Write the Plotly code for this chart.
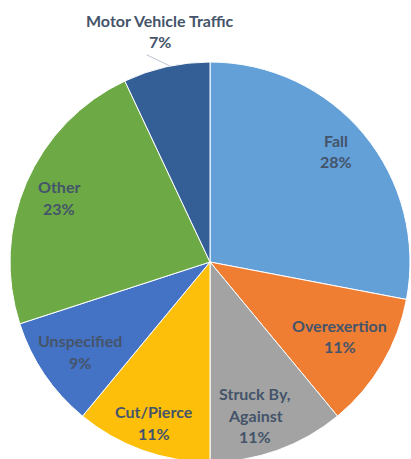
import math
import plotly.graph_objects as go

# slice data, clockwise from 12 o'clock
labels = ["Fall", "Overexertion", "Struck By,<br>Against", "Cut/Pierce",
          "Unspecified", "Other", "Motor Vehicle Traffic"]
values = [28, 11, 11, 11, 9, 23, 7]
colors = ["#63A0D8", "#EF7E33", "#A3A3A3", "#FDBF0A",
          "#4472C4", "#6DAA45", "#335F96"]

# label placement: fraction of radius and small angle nudge (degrees)
label_r = [0.84, 0.746, 0.80, 0.85, 0.79, 0.82, None]
label_nudge = [-1.8, -0.9, 3.4, -0.5, -0.4, -0.3, 0]

# figure is a bit taller than the window so the pie can run off the bottom;
# body margin is removed and overflow hidden (see post_script below)
W, H = 411, 464
cx, cy, R = 210, 262, 200
txt_color = "#44546A"
font = dict(family="Lato", size=16, color=txt_color, weight="bold")
line_h = 21.5

fig = go.Figure(go.Pie(
    labels=labels,
    values=values,
    sort=False,
    direction="clockwise",
    rotation=0,
    marker=dict(colors=colors, line=dict(color="white", width=1)),
    textinfo="none",
    hoverinfo="label+percent",
    domain=dict(x=[(cx - R) / W, (cx + R) / W],
                y=[1 - (cy + R) / H, 1 - (cy - R) / H]),
    showlegend=False,
))

annotations = []


def add_label(text, px, py):
    lines = text.split("<br>")
    n = len(lines)
    for i, ln in enumerate(lines):
        y = py + (i - (n - 1) / 2) * line_h
        annotations.append(dict(
            x=px / W, y=1 - y / H, xref="paper", yref="paper",
            text=ln, showarrow=False, font=font,
            xanchor="center", yanchor="middle",
        ))


total = sum(values)
cum = 0
for lab, v, f, nd in zip(labels, values, label_r, label_nudge):
    mid = (cum + v / 2) / total * 360 + nd
    cum += v
    pct = f"{round(v / total * 100)}%"
    if f is None:
        continue
    a = math.radians(mid)
    add_label(f"{lab}<br>{pct}", cx + f * R * math.sin(a), cy - f * R * math.cos(a))

# outside label for the small slice, with a leader line
add_label(f"{labels[-1]}<br>{round(values[-1] / total * 100)}%", 160, 31)
annotations.append(dict(
    x=170 / W, y=1 - 66 / H, xref="paper", yref="paper",
    ax=-25, ay=-12,
    text="", showarrow=True, arrowhead=0, arrowwidth=0.8, arrowcolor="#A6B4C8",
))

fig.update_layout(
    width=W, height=H,
    margin=dict(l=0, r=0, t=0, b=0),
    paper_bgcolor="white",
    annotations=annotations,
)

fig.write_html(
    "out.html",
    config={"displayModeBar": False},
    post_script="document.body.style.margin='0';document.body.style.overflow='hidden';",
)
